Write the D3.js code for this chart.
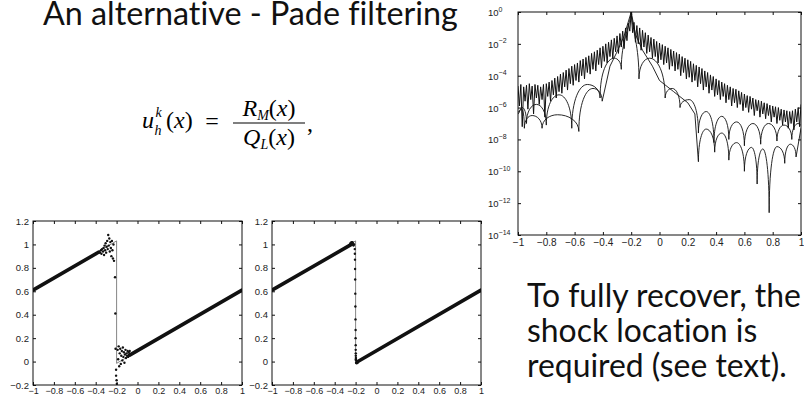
<!DOCTYPE html>
<html><head><meta charset="utf-8">
<script src="https://cdn.jsdelivr.net/npm/d3@7"></script>
<style>
html,body{margin:0;padding:0;background:#fff;}
svg{display:block;}
.slide{font-variant-ligatures:none;font-feature-settings:"liga" 0,"dlig" 0;}
</style></head><body>
<svg id="c" width="804" height="398"></svg>
<script>
// ---------------- data ----------------
const titleText = "An alternative - Pade filtering";
const noteLines = ["To fully recover, the", "shock location is", "required (see text)."];

const xTicks = [-1, -0.8, -0.6, -0.4, -0.2, 0, 0.2, 0.4, 0.6, 0.8, 1];
const uTicks = [-0.2, 0, 0.2, 0.4, 0.6, 0.8, 1, 1.2];
const logTicks = [0, -2, -4, -6, -8, -10, -12, -14];

// exact sawtooth solution (thin grey line)
const exactX = [-1, -0.2, -0.2, 1];
const exactU = [0.61, 1.03, -0.015, 0.61];

// panel 1: Pade reconstruction without shock location
const p1BandLeft = [[-1, 0.61], [-0.37, 0.935]];
const p1BandRight = [[-0.075, 0.055], [1, 0.61]];
const p1Dots = [[-0.36,0.93],[-0.35,0.95],[-0.345,0.92],[-0.34,0.96],[-0.33,0.94],[-0.325,0.97],[-0.32,0.91],[-0.315,0.99],[-0.31,0.95],[-0.305,1.01],[-0.30,0.93],[-0.295,0.98],[-0.29,1.03],[-0.285,0.96],[-0.28,1.08],[-0.275,0.99],[-0.27,1.05],[-0.265,0.94],[-0.26,1.02],[-0.255,0.97],[-0.25,0.90],[-0.245,1.03],[-0.24,0.95],[-0.235,0.88],[-0.23,1.00],[-0.225,0.86],
 [-0.215,0.72],[-0.212,0.41],[-0.21,0.11],[-0.205,-0.07],[-0.205,-0.12],[-0.2,-0.16],[-0.198,-0.19],[-0.195,-0.21],
 [-0.19,0.10],[-0.185,0.02],[-0.18,0.13],[-0.175,-0.04],[-0.17,0.07],[-0.165,0.11],[-0.16,-0.02],[-0.155,0.05],[-0.15,0.09],[-0.145,0.01],[-0.14,0.12],[-0.135,0.04],[-0.13,0.08],[-0.125,-0.01],[-0.12,0.06],[-0.115,0.10],[-0.11,0.03],[-0.105,0.07],[-0.10,0.05],[-0.095,0.09],[-0.09,0.04],[-0.085,0.08],[-0.08,0.06],[-0.075,0.09],[-0.07,0.06]];

// panel 2: Pade reconstruction with shock location
const p2BandLeft = [[-1, 0.61], [-0.24, 1.0]];
const p2BandRight = [[-0.17, 0.005], [1, 0.61]];
const p2Dots = [[-0.26,0.99],[-0.25,1.01],[-0.24,1.02],[-0.235,1.0],[-0.23,1.02],[-0.225,1.01],[-0.22,0.99],[-0.215,1.0],
 [-0.208,0.96],[-0.207,0.92],[-0.206,0.87],[-0.205,0.79],[-0.204,0.70],[-0.203,0.58],[-0.202,0.47],[-0.201,0.36],[-0.2,0.27],[-0.2,0.20],[-0.199,0.14],[-0.199,0.10],[-0.198,0.07],[-0.198,0.05],[-0.197,0.03],[-0.197,0.02],[-0.196,0.01],
 [-0.195,-0.01],[-0.19,-0.015],[-0.185,0.0],[-0.18,-0.01],[-0.175,0.0]];

// pointwise error, log10 values: thick oscillating curve
const fourierErr = [[-1.00,-4.65],[-0.99,-5.9],[-0.98,-4.55],[-0.97,-7.2],[-0.96,-4.7],[-0.95,-5.6],[-0.94,-4.6],[-0.93,-6.1],[-0.92,-4.5],[-0.91,-5.5],[-0.90,-4.65],[-0.89,-6.4],[-0.88,-4.55],[-0.87,-5.4],[-0.86,-4.6],[-0.85,-5.8],[-0.84,-4.7],[-0.83,-5.5],[-0.82,-4.55],[-0.81,-6.6],[-0.80,-4.5],[-0.79,-5.3],[-0.78,-4.4],[-0.77,-5.6],[-0.76,-4.3],[-0.75,-5.2],[-0.74,-4.15],[-0.73,-5.4],[-0.72,-4.05],[-0.71,-5.0],[-0.70,-3.9],[-0.69,-5.1],[-0.68,-3.8],[-0.67,-4.7],[-0.66,-3.65],[-0.65,-4.9],[-0.64,-3.55],[-0.63,-4.5],[-0.62,-3.4],[-0.61,-4.6],[-0.60,-3.3],[-0.59,-4.3],[-0.58,-3.2],[-0.57,-4.4],[-0.56,-3.05],[-0.55,-4.0],[-0.54,-2.95],[-0.53,-4.2],[-0.52,-2.85],[-0.51,-3.8],[-0.50,-2.75],[-0.49,-3.9],[-0.48,-2.6],[-0.47,-3.6],[-0.46,-2.5],[-0.45,-3.7],[-0.44,-2.4],[-0.43,-3.3],[-0.42,-2.25],[-0.41,-3.5],[-0.40,-2.15],[-0.39,-3.1],[-0.38,-2.0],[-0.37,-3.2],[-0.36,-1.9],[-0.35,-2.8],[-0.34,-1.75],[-0.33,-2.9],[-0.32,-1.65],[-0.31,-2.5],[-0.30,-1.5],[-0.29,-2.6],[-0.28,-1.35],[-0.27,-2.2],[-0.26,-1.2],[-0.25,-2.3],[-0.24,-1.0],[-0.23,-1.8],[-0.22,-0.7],[-0.21,-1.2],[-0.20,0],[-0.19,-1.3],[-0.18,-0.65],[-0.17,-1.9],[-0.16,-0.85],[-0.15,-2.0],[-0.14,-1.0],[-0.13,-2.4],[-0.12,-1.15],[-0.11,-2.2],[-0.10,-1.3],[-0.09,-2.6],[-0.08,-1.45],[-0.07,-2.5],[-0.06,-1.6],[-0.05,-2.9],[-0.04,-1.7],[-0.03,-2.8],[-0.02,-1.85],[-0.01,-3.2],[0.00,-1.95],[0.01,-3.0],[0.02,-2.05],[0.03,-3.3],[0.04,-2.15],[0.05,-3.2],[0.06,-2.25],[0.07,-3.6],[0.08,-2.35],[0.09,-3.4],[0.10,-2.45],[0.11,-3.7],[0.12,-2.55],[0.13,-3.6],[0.14,-2.65],[0.15,-4.0],[0.16,-2.8],[0.17,-3.8],[0.18,-2.9],[0.19,-4.2],[0.20,-3.0],[0.21,-4.1],[0.22,-3.1],[0.23,-4.4],[0.24,-3.25],[0.25,-4.3],[0.26,-3.35],[0.27,-4.7],[0.28,-3.45],[0.29,-4.5],[0.30,-3.55],[0.31,-4.9],[0.32,-3.7],[0.33,-4.7],[0.34,-3.8],[0.35,-5.1],[0.36,-3.95],[0.37,-4.9],[0.38,-4.05],[0.39,-5.3],[0.40,-4.2],[0.41,-5.2],[0.42,-4.3],[0.43,-5.5],[0.44,-4.4],[0.45,-5.3],[0.46,-4.5],[0.47,-5.7],[0.48,-4.6],[0.49,-5.5],[0.50,-4.7],[0.51,-5.9],[0.52,-4.8],[0.53,-5.7],[0.54,-4.85],[0.55,-6.0],[0.56,-4.95],[0.57,-5.8],[0.58,-5.05],[0.59,-6.2],[0.60,-5.15],[0.61,-6.0],[0.62,-5.25],[0.63,-6.3],[0.64,-5.3],[0.65,-6.1],[0.66,-5.4],[0.67,-6.5],[0.68,-5.5],[0.69,-6.2],[0.70,-5.55],[0.71,-6.6],[0.72,-5.6],[0.73,-6.4],[0.74,-5.7],[0.75,-6.7],[0.76,-5.75],[0.77,-6.5],[0.78,-5.85],[0.79,-6.9],[0.80,-5.9],[0.81,-6.6],[0.82,-5.95],[0.83,-7.0],[0.84,-6.0],[0.85,-6.8],[0.86,-6.1],[0.87,-7.1],[0.88,-6.15],[0.89,-6.9],[0.90,-6.2],[0.91,-7.3],[0.92,-6.25],[0.93,-7.0],[0.94,-6.2],[0.95,-7.4],[0.96,-6.1],[0.97,-6.9],[0.98,-6.0],[0.99,-7.2],[1.00,-5.8]];

// thin curves: [x, log10, kind] kind: d = dip, p = lobe top, c = cusp, s = smooth point
const padeErrA = [[-1.00,-6.4,'s'],[-0.97,-6.0,'p'],[-0.94,-7.0,'d'],[-0.87,-5.8,'p'],[-0.80,-7.1,'d'],[-0.71,-5.2,'p'],[-0.62,-7.3,'d'],[-0.51,-4.55,'p'],[-0.42,-5.4,'d'],[-0.32,-2.9,'p'],[-0.27,-3.6,'d'],[-0.20,0,'c'],[-0.145,-4.2,'d'],[-0.07,-2.9,'p'],[0.04,-5.4,'d'],[0.09,-4.8,'p'],[0.145,-6.0,'d'],[0.21,-5.5,'p'],[0.275,-7.6,'d'],[0.33,-6.25,'p'],[0.385,-8.2,'d'],[0.44,-6.55,'p'],[0.49,-8.0,'d'],[0.545,-6.9,'p'],[0.60,-8.4,'d'],[0.66,-7.0,'p'],[0.715,-8.3,'d'],[0.77,-7.0,'p'],[0.83,-8.1,'d'],[0.88,-7.1,'p'],[0.935,-8.0,'d'],[0.98,-7.0,'p'],[1.00,-7.1,'s']];
const padeErrB = [[-1.00,-6.3,'s'],[-0.975,-6.1,'p'],[-0.955,-7.3,'d'],[-0.90,-6.5,'p'],[-0.83,-7.3,'d'],[-0.72,-6.45,'p'],[-0.57,-7.5,'d'],[-0.47,-4.8,'p'],[-0.405,-5.6,'d'],[-0.35,-3.4,'s'],[-0.30,-2.5,'s'],[-0.25,-1.5,'s'],[-0.20,0,'c'],[-0.17,-1.4,'s'],[-0.12,-2.4,'s'],[-0.05,-3.4,'s'],[0.0,-4.3,'s'],[0.1,-5.0,'s'],[0.2,-5.7,'s'],[0.25,-6.4,'s'],[0.275,-9.4,'d'],[0.33,-7.35,'p'],[0.39,-8.8,'d'],[0.44,-7.6,'p'],[0.49,-9.3,'d'],[0.545,-8.2,'p'],[0.60,-10.0,'d'],[0.65,-8.5,'p'],[0.69,-10.8,'d'],[0.73,-8.6,'p'],[0.775,-12.6,'d'],[0.83,-8.45,'p'],[0.885,-9.5,'d'],[0.925,-8.3,'p'],[0.965,-9.1,'d'],[1.00,-7.3,'s']];

// ---------------- drawing ----------------
const svg = d3.select("#c");
const TICKFONT = "'Liberation Sans', Arial, Helvetica, sans-serif";
const SLIDEFONT = "Lato, 'Open Sans', sans-serif";
const MATHFONT = "'Liberation Serif', 'Times New Roman', serif";
const fmt = d3.format("~g");

function fitText(sel, targetW, startSize) {
  sel.attr("font-size", startSize);
  const w = sel.node().getComputedTextLength();
  sel.attr("font-size", startSize * targetW / w);
}

// title
const title = svg.append("text").attr("class", "slide").attr("x", 43).attr("y", 25)
  .attr("font-family", SLIDEFONT).attr("fill", "#111").text(titleText);
fitText(title, 415, 30);

// note
const noteG = svg.append("g").attr("class", "slide").attr("font-family", SLIDEFONT).attr("fill", "#111");
const noteEls = noteLines.map((t, i) => noteG.append("text").attr("x", 527).attr("y", 307 + i * 35).attr("font-size", 29).text(t));
{
  const w = noteEls[0].node().getComputedTextLength();
  noteG.selectAll("text").attr("font-size", 29 * 274 / w);
}

// formula
function measure(txt, size, style) {
  const t = svg.append("text").attr("font-family", MATHFONT).attr("font-size", size)
    .attr("font-style", style || "normal").text(txt);
  const w = t.node().getComputedTextLength(); t.remove(); return w;
}
const fsz = 24, ssz = 14;
const fg = svg.append("g").attr("font-family", MATHFONT).attr("fill", "#000");
let cx = 142;
fg.append("text").attr("x", cx).attr("y", 128).attr("font-size", fsz).attr("font-style", "italic").text("u");
cx += measure("u", fsz, "italic") + 0.5;
fg.append("text").attr("x", cx + 1).attr("y", 117).attr("font-size", ssz).attr("font-style", "italic").text("k");
fg.append("text").attr("x", cx).attr("y", 135).attr("font-size", ssz).attr("font-style", "italic").text("h");
const lhs = fg.append("text").attr("x", 166).attr("y", 128).attr("font-size", fsz);
lhs.append("tspan").text("(");
lhs.append("tspan").attr("font-style", "italic").text("x");
lhs.append("tspan").text(")");
fg.append("text").attr("x", 212).attr("y", 129).attr("font-size", fsz).attr("text-anchor", "middle").text("=");
fg.append("line").attr("x1", 233).attr("x2", 305).attr("y1", 123).attr("y2", 123).attr("stroke", "#000").attr("stroke-width", 1.1);
function fracPart(main, sub, y) {
  const t = fg.append("text").attr("x", 269).attr("y", y).attr("font-size", fsz).attr("text-anchor", "middle");
  t.append("tspan").attr("font-style", "italic").text(main);
  t.append("tspan").attr("font-style", "italic").attr("font-size", ssz).attr("dy", 4).text(sub);
  t.append("tspan").attr("dy", -4).text("(");
  t.append("tspan").attr("font-style", "italic").text("x");
  t.append("tspan").text(")");
}
fracPart("R", "M", 116);
fracPart("Q", "L", 145);
fg.append("text").attr("x", 307).attr("y", 131).attr("font-size", fsz).text(",");

const axisStyle = size => a => a.attr("font-family", TICKFONT).attr("font-size", size).call(s => s.select(".domain").remove())
  .call(s => s.selectAll(".tick line").attr("stroke", "#111")).call(s => s.selectAll(".tick text").attr("fill", "#222"));

// ---------- bottom panels ----------
function panel(box, bandL, bandR, dots, id) {
  const xs = d3.scaleLinear().domain([-1, 1]).range([box.x0, box.x1]);
  const ys = d3.scaleLinear().domain([-0.2, 1.2]).range([box.y1, box.y0]);
  const g = svg.append("g");
  g.append("clipPath").attr("id", id).append("rect")
    .attr("x", box.x0).attr("y", box.y0).attr("width", box.x1 - box.x0).attr("height", box.y1 - box.y0);
  const pg = g.append("g").attr("clip-path", `url(#${id})`);
  const ln = d3.line().x(d => xs(d[0])).y(d => ys(d[1]));
  pg.append("path").attr("d", ln(exactX.map((x, i) => [x, exactU[i]])))
    .attr("fill", "none").attr("stroke", "#666").attr("stroke-width", 0.8);
  [bandL, bandR].forEach(b => pg.append("path").attr("d", ln(b)).attr("fill", "none")
    .attr("stroke", "#111").attr("stroke-width", 3.6).attr("stroke-linecap", "round"));
  pg.selectAll("circle.dot").data(dots).join("circle").attr("class", "dot")
    .attr("cx", d => xs(d[0])).attr("cy", d => ys(d[1])).attr("r", 1.2).attr("fill", "#111");
  g.append("rect").attr("x", box.x0).attr("y", box.y0).attr("width", box.x1 - box.x0).attr("height", box.y1 - box.y0)
    .attr("fill", "none").attr("stroke", "#111").attr("stroke-width", 1);
  g.append("g").attr("transform", `translate(0,${box.y1})`)
    .call(d3.axisBottom(xs).tickValues(xTicks).tickFormat(fmt).tickSize(-3).tickPadding(3)).call(axisStyle(9));
  g.append("g").attr("transform", `translate(0,${box.y0})`)
    .call(d3.axisTop(xs).tickValues(xTicks).tickFormat("").tickSize(-3)).call(axisStyle(9));
  g.append("g").attr("transform", `translate(${box.x0},0)`)
    .call(d3.axisLeft(ys).tickValues(uTicks).tickFormat(fmt).tickSize(-3).tickPadding(4)).call(axisStyle(9.5));
  g.append("g").attr("transform", `translate(${box.x1},0)`)
    .call(d3.axisRight(ys).tickValues(uTicks).tickFormat("").tickSize(-3)).call(axisStyle(9));
}
panel({x0: 33, x1: 242, y0: 221, y1: 385}, p1BandLeft, p1BandRight, p1Dots, "clip1");
panel({x0: 272, x1: 481, y0: 221, y1: 385}, p2BandLeft, p2BandRight, p2Dots, "clip2");

// ---------- log error panel ----------
(function(){
  const box = {x0: 518, x1: 801, y0: 12, y1: 235};
  const xs = d3.scaleLinear().domain([-1, 1]).range([box.x0, box.x1]);
  const ys = d3.scaleLog().domain([1e-14, 1]).range([box.y1, box.y0]);
  const g = svg.append("g");
  g.append("clipPath").attr("id", "clip3").append("rect")
    .attr("x", box.x0).attr("y", box.y0 - 1).attr("width", box.x1 - box.x0).attr("height", box.y1 - box.y0 + 1);
  const pg = g.append("g").attr("clip-path", "url(#clip3)");

  function lobePath(pts) {
    const P = pts.map(d => [xs(d[0]), ys(Math.pow(10, d[1])), d[2]]);
    const p = d3.path();
    p.moveTo(P[0][0], P[0][1]);
    for (let i = 1; i < P.length; i++) {
      const A = P[i - 1], B = P[i], dx = B[0] - A[0];
      if (A[2] === 'd' && B[2] === 'p') p.bezierCurveTo(A[0], A[1] + 0.65 * (B[1] - A[1]), B[0] - 0.5 * dx, B[1], B[0], B[1]);
      else if (A[2] === 'p' && B[2] === 'd') p.bezierCurveTo(A[0] + 0.5 * dx, A[1], B[0], B[1] + 0.65 * (A[1] - B[1]), B[0], B[1]);
      else if (A[2] === 'd' && B[2] === 'c') p.bezierCurveTo(A[0], A[1] + 0.5 * (B[1] - A[1]), B[0] - 0.2 * dx, B[1] + 0.3 * (A[1] - B[1]), B[0], B[1]);
      else if (A[2] === 'c' && B[2] === 'd') p.bezierCurveTo(A[0] + 0.2 * dx, A[1] + 0.3 * (B[1] - A[1]), B[0], B[1] + 0.5 * (A[1] - B[1]), B[0], B[1]);
      else if (A[2] === 's' && B[2] === 'p') p.bezierCurveTo(A[0] + 0.3 * dx, A[1], B[0] - 0.5 * dx, B[1], B[0], B[1]);
      else if (A[2] === 'p' && B[2] === 's') p.bezierCurveTo(A[0] + 0.5 * dx, A[1], B[0] - 0.3 * dx, B[1], B[0], B[1]);
      else p.lineTo(B[0], B[1]);
    }
    return p.toString();
  }
  [padeErrA, padeErrB].forEach(c => pg.append("path").attr("d", lobePath(c))
    .attr("fill", "none").attr("stroke", "#111").attr("stroke-width", 0.9));
  const ln = d3.line().x(d => xs(d[0])).y(d => ys(Math.pow(10, d[1])));
  pg.append("path").attr("d", ln(fourierErr)).attr("fill", "none")
    .attr("stroke", "#111").attr("stroke-width", 1.0).attr("stroke-linejoin", "miter");

  g.append("rect").attr("x", box.x0).attr("y", box.y0).attr("width", box.x1 - box.x0).attr("height", box.y1 - box.y0)
    .attr("fill", "none").attr("stroke", "#111").attr("stroke-width", 1);
  g.append("g").attr("transform", `translate(0,${box.y1})`)
    .call(d3.axisBottom(xs).tickValues(xTicks).tickFormat(fmt).tickSize(-3).tickPadding(4)).call(axisStyle(10));
  g.append("g").attr("transform", `translate(0,${box.y0})`)
    .call(d3.axisTop(xs).tickValues(xTicks).tickFormat("").tickSize(-3)).call(axisStyle(10));
  const yv = logTicks.map(e => Math.pow(10, e));
  g.append("g").attr("transform", `translate(${box.x0},0)`)
    .call(d3.axisLeft(ys).tickValues(yv).tickFormat("").tickSize(-3)).call(axisStyle(10));
  g.append("g").attr("transform", `translate(${box.x1},0)`)
    .call(d3.axisRight(ys).tickValues(yv).tickFormat("").tickSize(-3)).call(axisStyle(10));
  const lab = g.append("g").attr("font-family", TICKFONT).attr("fill", "#222");
  logTicks.forEach(e => {
    const t = lab.append("text").attr("x", 488).attr("y", ys(Math.pow(10, e)) + 4).attr("font-size", 9.5);
    t.append("tspan").text("10");
    t.append("tspan").attr("dy", -4.5).attr("font-size", 7).text(e === 0 ? "0" : "\u2212" + Math.abs(e));
  });
})();
</script>
</body></html>
